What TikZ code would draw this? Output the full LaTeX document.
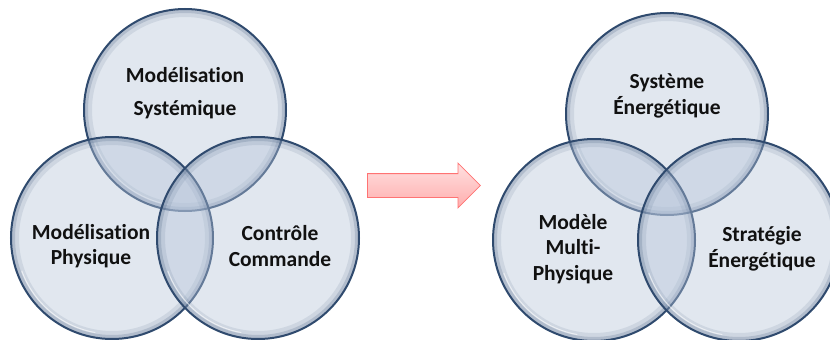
\documentclass[tikz,border=0pt]{standalone}
\usepackage{fontspec}
\setmainfont{Carlito}[Ligatures=NoCommon]
\usetikzlibrary{shapes.arrows}
\definecolor{vennfill}{HTML}{B4C3D9}
\definecolor{vennline}{HTML}{2F4A6E}
\definecolor{txt}{HTML}{111111}
\tikzset{
	venn/.style={circle, inner sep=0pt, minimum size=202pt, fill=vennfill, fill opacity=0.40,
		draw=vennline, line width=2pt, draw opacity=1,
		path picture={
			\draw[vennline, opacity=0.10, line width=16pt] (path picture bounding box.center) circle (101pt);
			\draw[vennline, opacity=0.18, line width=8pt] (path picture bounding box.center) circle (101pt);
			\draw[white, opacity=0.6, line width=1pt] (path picture bounding box.center) ++(200:96pt) arc (200:260:96pt);
		}},
	lbl/.style={align=center, font=\bfseries\fontsize{21.5}{25.5}\selectfont, text=txt, inner sep=0pt},
}
\begin{document}
\begin{tikzpicture}[x=1pt, y=-1pt]
	\useasboundingbox (0,0) rectangle (830,340);
	\fill[white] (0,0) rectangle (830,340);
	
	% avant
	\node[venn] (MS) at (185,110) {};
	\node[venn] (MP) at (112,238) {};
	\node[venn] (CC) at (258,238) {};
	
	\node[lbl] (MSt) at (185,93) {Modélisation\\[7pt]Systémique};
	\node[lbl] (MPt) at (91,246) {Modélisation\\Physique};
	\node[lbl] (CCt) at (280,246) {Contrôle\\Commande};
	
	% apres
	\node[venn] (SE) at (667,114) {};
	\node[venn] (MM) at (594,240) {};
	\node[venn] (ST) at (739,240) {};
	
	\node[lbl] (SEt) at (667,96) {Système\\Énergétique};
	\node[lbl] (MMt) at (573,249) {Modèle\\Multi-\\Physique};
	\node[lbl] (STt) at (762,249) {Stratégie\\Énergétique};
	
	\node[single arrow, draw=red!55!white, line width=0.8pt, top color=red!12, bottom color=red!32,
		inner sep=0pt, inner ysep=11.5pt, single arrow head extend=10.5pt,
		minimum height=113pt, anchor=tail] (FL) at (367,185.5) {};
\end{tikzpicture}
\end{document}
